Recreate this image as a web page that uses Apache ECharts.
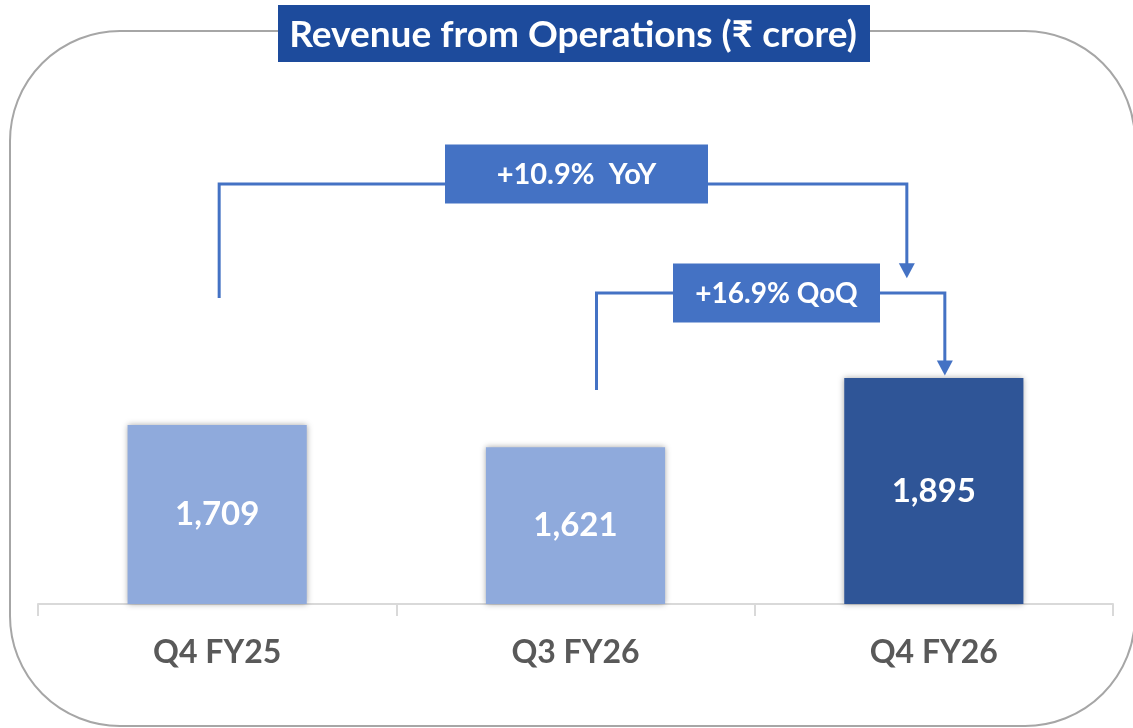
<!DOCTYPE html>
<html>
<head>
<meta charset="utf-8">
<script src="https://cdn.jsdelivr.net/npm/echarts@6/dist/echarts.min.js"></script>
<style>
  html, body { margin: 0; padding: 0; background: #fff; }
  #chart { width: 1133px; height: 728px; }
</style>
</head>
<body>
<div id="chart"></div>
<script>
// data
const categories = ['Q4 FY25', 'Q3 FY26', 'Q4 FY26'];
const revenue = [1709, 1621, 1895];
const barColors = ['#8FAADC', '#8FAADC', '#2F5597'];
const growthLabels = ['+10.9%  YoY', '+16.9% QoQ'];
const growthFrom = [0, 1];
const growthTo = [2, 2];

// bracket layout (value units on the y axis, px offsets from category centre)
const bracketLayout = [
  { start: 2212, level: 2663, end: 2290, dxFrom: 2, dxTo: -27, boxW: 263, boxH: 59, boxDy: -10, boxX: 576.5, fs: 29 },
  { start: 1848, level: 2232, end: 1905, dxFrom: 21, dxTo: 11, boxW: 207, boxH: 59, boxDy: 0, boxX: 776.5, fs: 28 }
];

const font = 'Lato, "Open Sans", "Noto Sans", sans-serif';
const lineColor = '#4472C4';

const chart = echarts.init(document.getElementById('chart'));

function renderBracket(params, api) {
  const L = bracketLayout[params.dataIndex];
  const from = api.value(0), to = api.value(1);
  const a = api.coord([from, L.start]);
  const b = api.coord([from, L.level]);
  const c = api.coord([to, L.level]);
  const d = api.coord([to, L.end]);
  const x1 = a[0] + L.dxFrom, x2 = c[0] + L.dxTo;
  const yl = b[1];
  const tip = d[1];
  const cy = yl + L.boxDy;
  return {
    type: 'group',
    children: [
      {
        type: 'polyline',
        shape: { points: [[x1, a[1]], [x1, yl], [x2, yl], [x2, tip - 13]] },
        style: { stroke: lineColor, lineWidth: 3, fill: null }
      },
      {
        type: 'polygon',
        shape: { points: [[x2 - 8, tip - 15], [x2 + 8, tip - 15], [x2, tip]] },
        style: { fill: lineColor }
      },
      {
        type: 'rect',
        shape: { x: L.boxX - L.boxW / 2, y: cy - L.boxH / 2, width: L.boxW, height: L.boxH },
        style: { fill: lineColor }
      },
      {
        type: 'text',
        style: {
          text: growthLabels[api.value(2)],
          x: L.boxX, y: cy + 1,
          align: 'center', verticalAlign: 'middle',
          fill: '#fff', fontSize: L.fs, fontWeight: 'bold', fontFamily: font
        }
      }
    ]
  };
}

const option = {
  animation: false,
  graphic: [
    {
      type: 'rect',
      z: -10,
      shape: { x: 10, y: 31, width: 1125, height: 695, r: 110 },
      style: { fill: '#fff', stroke: '#A6A6A6', lineWidth: 2 }
    },
    {
      type: 'rect',
      z: 10,
      shape: { x: 278, y: 5, width: 592, height: 57 },
      style: { fill: '#1D4B9C' }
    },
    {
      type: 'text',
      z: 11,
      style: {
        text: 'Revenue from Operations (₹ crore)',
        x: 573, y: 35, align: 'center', verticalAlign: 'middle',
        fill: '#fff', fontSize: 37, fontWeight: 'bold', fontFamily: font
      }
    }
  ],
  grid: { left: 38, right: 20, top: 99, bottom: 124 },
  xAxis: {
    type: 'category',
    data: categories,
    axisLine: { lineStyle: { color: '#D9D9D9', width: 2 } },
    axisTick: { show: true, length: 12, lineStyle: { color: '#D9D9D9', width: 2 } },
    axisLabel: { color: '#595959', fontSize: 32, fontWeight: 'bold', fontFamily: font, margin: 33 }
  },
  yAxis: { type: 'value', min: 1000, max: 3000, show: false },
  series: [
    {
      type: 'bar',
      barWidth: '50%',
      data: revenue.map((v, i) => ({ value: v, itemStyle: { color: barColors[i] } })),
      itemStyle: { shadowBlur: 6, shadowColor: 'rgba(0,0,0,0.35)' },
      label: {
        show: true, position: 'inside',
        formatter: p => p.value.toLocaleString('en-US'),
        color: '#fff', fontSize: 33, fontWeight: 'bold', fontFamily: font
      }
    },
    {
      type: 'custom',
      renderItem: renderBracket,
      clip: false,
      z: 5,
      data: growthFrom.map((f, i) => [f, growthTo[i], i])
    }
  ]
};

chart.setOption(option);
</script>
</body>
</html>
